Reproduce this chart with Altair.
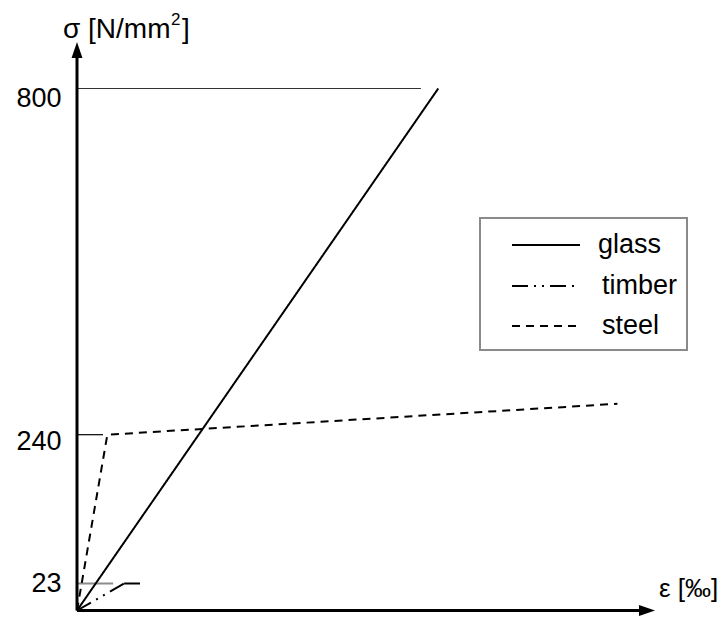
import altair as alt
import pandas as pd

# ---- data (strain in arbitrary schematic units, stress in N/mm^2) ----
glass_eps = [0, 12.5]
glass_sig = [0, 800]
steel_eps = [0, 1.05, 18.7]
steel_sig = [0, 240, 290]
timber_eps = [0, 1.63]
timber_sig = [0, 23]
timber_plateau_eps = [1.63, 2.18]
timber_plateau_sig = [23, 23]

ref_levels = [800, 240, 23]
ref_ends = [11.9, 0.9, 1.25]
ref_colors = ["#333333", "#000000", "#8c8c8c"]
ref_widths = [1, 1.2, 2]

y_ticks = [23, 240, 800]
legend_names = ["glass", "timber", "steel"]
dashes = {"glass": [1, 0], "timber": [16, 6, 2, 6, 2, 6], "steel": [8, 6]}

axis_x_end = 19.6
axis_y_end = 860
arrow_x_tip = 20
arrow_y_tip = 880

FONT = "Liberation Sans"
FS = 27

# ---- scales ----
xscale = alt.Scale(domain=[0, 20], range=[0, 578], nice=False, zero=False)
yscale = alt.Scale(domain=[0, 23, 240, 800, 880],
                   range=[568.5, 541.5, 392.7, 46.5, 0], nice=False, zero=False)
yaxis = alt.Axis(values=y_ticks, domain=False, ticks=False, tickSize=0, grid=False,
                 title=None, labelFont=FONT, labelFontSize=FS, labelColor="black",
                 labelPadding=16, labelBaseline="middle",
                 labelOffset={"condition": [{"test": "datum.value === 23", "value": 0},
                                            {"test": "datum.value === 240", "value": 7}],
                              "value": 10})


def X(f):
    return alt.X(f, type="quantitative", scale=xscale, axis=None)


def Y(f):
    return alt.Y(f, type="quantitative", scale=yscale, axis=yaxis)


rows = []
for name, xs, ys in [("glass", glass_eps, glass_sig),
                     ("steel", steel_eps, steel_sig),
                     ("timber", timber_eps, timber_sig)]:
    for i, (a, b) in enumerate(zip(xs, ys)):
        rows.append({"series": name, "eps": a, "sig": b, "o": i})
curves = pd.DataFrame(rows)

lines = alt.Chart(curves).mark_line(color="black", strokeWidth=2).encode(
    x=X("eps"), y=Y("sig"), order="o:Q",
    detail="series:N",
    strokeDash=alt.StrokeDash("series:N",
                              scale=alt.Scale(domain=list(dashes.keys()),
                                              range=list(dashes.values())),
                              legend=None),
)

plateau = alt.Chart(pd.DataFrame({"eps": timber_plateau_eps, "sig": timber_plateau_sig})).mark_line(
    color="black", strokeWidth=2).encode(x=X("eps"), y=Y("sig"))

refs_df = pd.DataFrame({"lvl": ref_levels, "x0": [0, 0, 0], "x1": ref_ends,
                        "c": ref_colors, "w": ref_widths})
refs = alt.Chart(refs_df).mark_rule().encode(
    x=X("x0"), x2="x1", y=Y("lvl"),
    color=alt.Color("c:N", scale=None),
    strokeWidth=alt.StrokeWidth("w:Q", scale=None),
)

axes_df = pd.DataFrame({"x0": [0, 0], "y0": [0, 0], "x1": [axis_x_end, 0], "y1": [0, axis_y_end]})
axes = alt.Chart(axes_df).mark_rule(color="black", strokeWidth=3).encode(
    x=X("x0"), y=Y("y0"), x2="x1", y2="y1")

up_arrow = alt.Chart(pd.DataFrame({"x": [0], "y": [arrow_y_tip]})).mark_point(
    shape="M0,0L-0.34,1L0.34,1Z", filled=True, size=1024, color="black", opacity=1
).encode(x=X("x"), y=Y("y"))
right_arrow = alt.Chart(pd.DataFrame({"x": [arrow_x_tip], "y": [0]})).mark_point(
    shape="M0,0L-1,-0.34L-1,0.34Z", filled=True, size=1024, color="black", opacity=1
).encode(x=X("x"), y=Y("y"))


def txt(s, x, y, size=FS, baseline="alphabetic"):
    return alt.Chart(pd.DataFrame({"t": [s]})).mark_text(
        font=FONT, fontSize=size, align="left", baseline=baseline, color="black"
    ).encode(x=alt.value(x), y=alt.value(y), text="t:N")


ytitle = [txt("σ [N/mm", -14, -4, 28), txt("2", 94, -17, 17), txt("]", 105, -4, 28)]
xtitle = txt("ε [‰]", 582, 555, 26)

# ---- legend (drawn by hand) ----
legend_box = alt.Chart(pd.DataFrame({"a": [0]})).mark_rect(
    fill="white", stroke="#8a8a8a", strokeWidth=2
).encode(x=alt.value(403), x2=alt.value(610), y=alt.value(176), y2=alt.value(308))

legend_layers = [legend_box]
row_y = [203, 244, 284]
text_x = [521, 525, 525]
for name, yy, tx in zip(legend_names, row_y, text_x):
    legend_layers.append(
        alt.Chart(pd.DataFrame({"a": [0]})).mark_rule(
            color="black", strokeWidth=2, strokeDash=dashes[name]
        ).encode(x=alt.value(435), x2=alt.value(503), y=alt.value(yy))
    )
    legend_layers.append(txt(name, tx, yy, FS, "middle"))

chart = alt.layer(
    refs, lines, plateau, axes, up_arrow, right_arrow, *ytitle, xtitle, *legend_layers
).properties(
    width=578, height=568,
    padding={"left": 69, "top": 34, "right": 65, "bottom": 7},
    autosize=alt.AutoSizeParams(type="none"),
).configure_view(stroke=None)

chart.save("out.html", embed_options={"renderer": "svg", "actions": False})
